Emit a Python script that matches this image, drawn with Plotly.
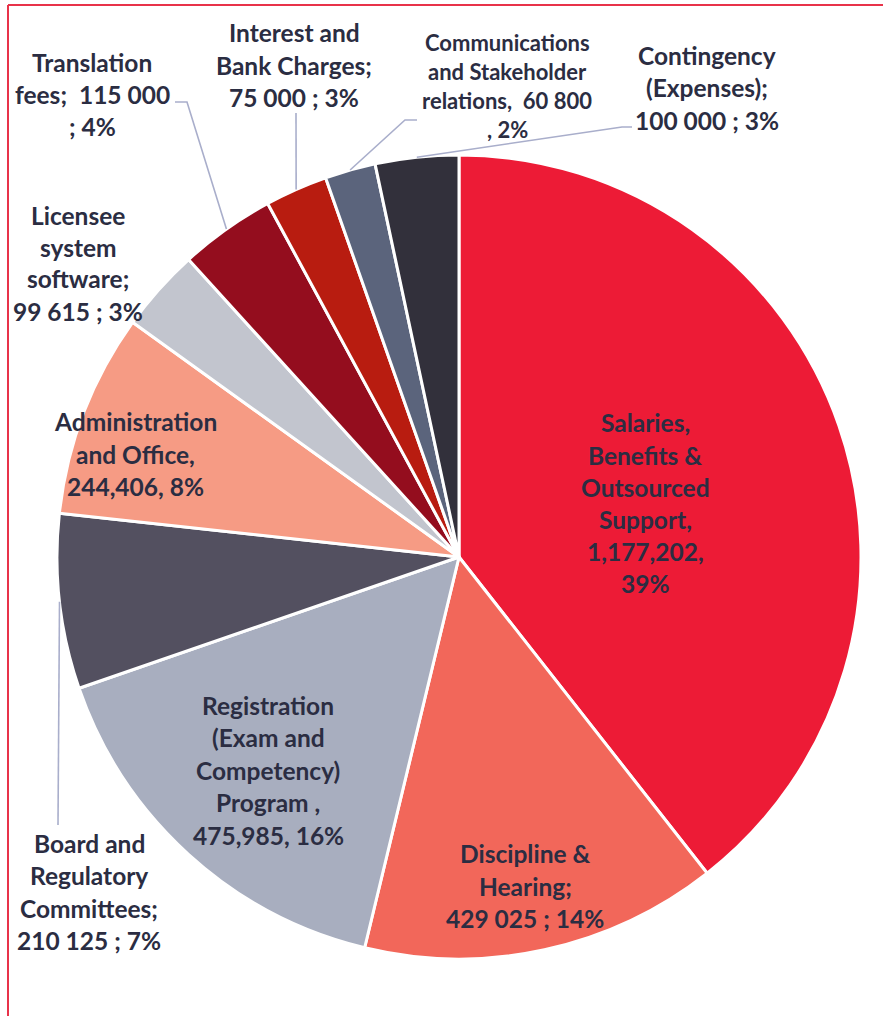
import math
import plotly.graph_objects as go

W, H = 883, 1016

categories = [
    "Salaries, Benefits & Outsourced Support",
    "Discipline & Hearing",
    "Registration (Exam and Competency) Program",
    "Board and Regulatory Committees",
    "Administration and Office",
    "Licensee system software",
    "Translation fees",
    "Interest and Bank Charges",
    "Communications and Stakeholder relations",
    "Contingency (Expenses)",
]
values = [1177202, 429025, 475985, 210125, 244406, 99615, 115000, 75000, 60800, 100000]
colors = ["#ED1B36", "#F2675A", "#A8AEBF", "#535060", "#F69B84",
          "#C2C5CE", "#940D1E", "#B81C10", "#5B647C", "#32303B"]

# label text templates ({v}: value, {p}: percent) and number style
label_lines = [
    ["Salaries,", "Benefits &", "Outsourced", "Support,", "{v},", "{p}%"],
    ["Discipline &", "Hearing;", "{v} ; {p}%"],
    ["Registration", "(Exam and", "Competency)", "Program ,", "{v}, {p}%"],
    ["Board and", "Regulatory", "Committees;", "{v} ; {p}%"],
    ["Administration", "and Office,", "{v}, {p}%"],
    ["Licensee", "system", "software;", "{v} ; {p}%"],
    ["Translation", "fees;  {v}", "; {p}%"],
    ["Interest and", "Bank Charges;", "{v} ; {p}%"],
    ["Communications", "and Stakeholder", "relations,  {v}", ", {p}%"],
    ["Contingency", "(Expenses);", "{v} ; {p}%"],
]
number_style = ["comma", "space", "comma", "space", "comma",
                "space", "space", "space", "space", "space"]

# ---- layout constants (pixels) ----
CX, CY, R = 459, 557, 402
label_pos = [(645, 503), (525, 886), (268, 770), (89, 892), (135, 454),
             (78, 263), (92, 94), (294, 65), (507, 86), (707, 88)]
line_gap = [32, 32.5, 32.5, 32.3, 32.5, 32, 32, 32.5, 29, 32.5]
font_size = [24.5, 24.5, 24.5, 24.5, 24.5, 24.5, 24.5, 24.5, 22, 24.5]
# leader elbows (pixels) for labels that have leader lines
leaders = {
    3: [(58, 825)],
    6: [(187, 102), (175, 102)],
    7: [(296, 113)],
    8: [(405, 120), (417, 120)],
    9: [(622, 127), (632, 127)],
}

TEXT = "#2B2D42"
LINE = "#A9AECB"

def fx(x):
    return x / W

def fy(y):
    return 1 - y / H

total = sum(values)

fig = go.Figure(go.Pie(
    labels=categories,
    values=values,
    sort=False,
    direction="clockwise",
    rotation=0,
    marker=dict(colors=colors, line=dict(color="white", width=3)),
    textinfo="none",
    hoverinfo="label+value+percent",
    showlegend=False,
    domain=dict(x=[fx(CX - R), fx(CX + R)], y=[fy(CY + R), fy(CY - R)]),
))

annotations = []
shapes = []

cum = 0
for i, v in enumerate(values):
    pct = round(v / total * 100)
    vs = f"{v:,}" if number_style[i] == "comma" else f"{v:,}".replace(",", " ")
    lines = [t.format(v=vs, p=pct) for t in label_lines[i]]
    lx, ly = label_pos[i]
    n = len(lines)
    for k, t in enumerate(lines):
        yy = ly + (k - (n - 1) / 2) * line_gap[i]
        annotations.append(dict(
            x=fx(lx), y=fy(yy), xref="paper", yref="paper",
            text=t, showarrow=False, xanchor="center", yanchor="middle",
            font=dict(family="Lato", size=font_size[i], color=TEXT, weight="bold"),
        ))
    mid = (cum + v / 2) / total * 2 * math.pi
    cum += v
    if i in leaders:
        sx = CX + R * math.sin(mid)
        sy = CY - R * math.cos(mid)
        pts = [(sx, sy)] + leaders[i]
        path = "M " + " L ".join(f"{fx(x)},{fy(y)}" for x, y in pts)
        shapes.append(dict(type="path", path=path, xref="paper", yref="paper",
                           line=dict(color=LINE, width=1.6)))

# outer frame (left and top edges visible)
shapes.append(dict(type="line", xref="paper", yref="paper",
                   x0=fx(8), y0=fy(5), x1=fx(8), y1=fy(H + 5),
                   line=dict(color="#E8334A", width=2)))
shapes.append(dict(type="line", xref="paper", yref="paper",
                   x0=fx(8), y0=fy(5), x1=fx(W + 5), y1=fy(5),
                   line=dict(color="#E8334A", width=2)))

fig.update_layout(
    width=W, height=H,
    margin=dict(l=0, r=0, t=0, b=0),
    paper_bgcolor="white",
    plot_bgcolor="white",
    annotations=annotations,
    shapes=shapes,
)

fig.write_html("out.html")
